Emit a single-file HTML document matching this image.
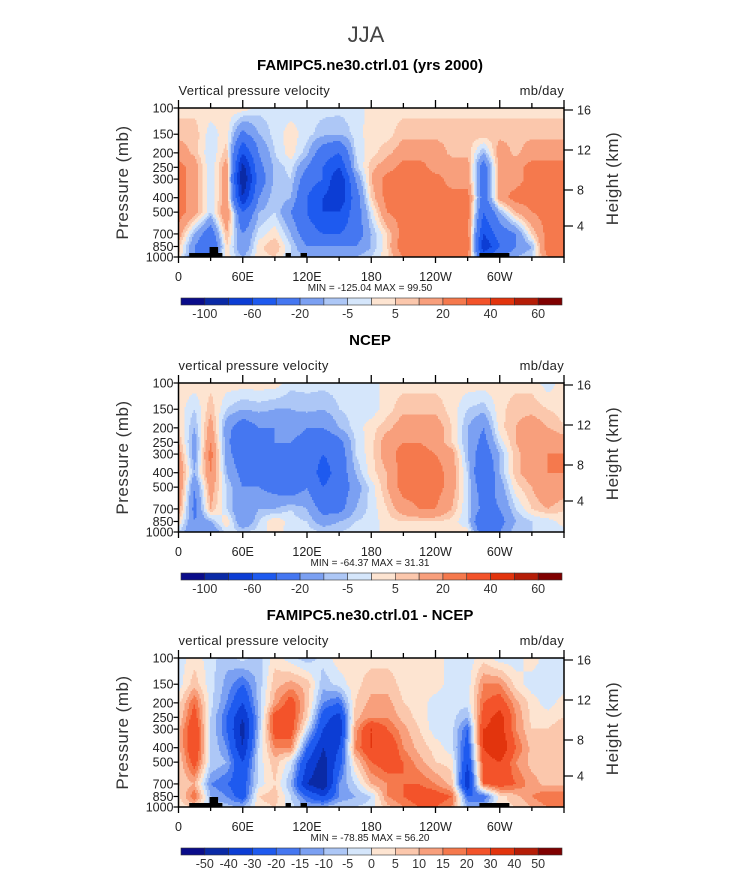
<!DOCTYPE html>
<html><head><meta charset="utf-8"><style>
html,body{margin:0;padding:0;background:#fff;}
body{width:733px;height:888px;position:relative;overflow:hidden;font-family:"Liberation Sans",sans-serif;}
svg{position:absolute;left:0;top:0;}
</style></head><body>
<svg id="chart" width="733" height="888" viewBox="0 0 733 888"></svg>
<script>
// ---- data ----
const lons = [0,15,30,45,60,75,90,105,120,135,150,165,180,195,210,225,240,255,270,285,300,315,330,345,360];
const levels = [100,150,200,250,300,400,500,700,850,1000];
const model = [
[3,3,3,3,4,-3,-3,-3,-3,-3,-3,-3,2,3,3,3,3,3,3,3,3,3,3,3,3],
[8,8,-3,3,-25,-10,-3,3,-3,-8,-10,-3,3,3,8,8,8,8,8,8,8,8,8,8,8],
[15,8,-5,8,-60,-20,-5,3,-8,-30,-40,-5,3,8,15,15,15,8,8,-10,15,8,15,15,15],
[25,15,-5,15,-90,-25,-8,-3,-20,-40,-60,-8,8,15,25,25,15,15,15,-30,15,15,25,25,25],
[25,15,-5,15,-100,-30,-8,-5,-30,-40,-80,-20,10,25,25,25,25,15,15,-30,15,15,25,25,25],
[25,15,-5,15,-80,-20,-5,-10,-40,-60,-80,-30,5,25,25,25,25,25,25,-30,15,25,25,25,25],
[25,15,-5,20,-40,-10,-5,-20,-40,-60,-60,-30,-3,20,25,25,25,25,25,-40,-10,10,20,25,25],
[15,-10,-30,10,-20,-3,3,-10,-30,-40,-40,-30,-10,5,25,25,25,25,25,-60,-30,-20,5,25,25],
[8,-20,-40,5,-20,3,10,-5,-20,-20,-20,-20,-10,5,30,30,30,30,30,-80,-40,-20,-10,30,25],
[5,-20,-20,3,-10,3,5,-5,-10,-10,-10,-10,-5,3,20,20,20,20,20,-40,-20,-10,-5,20,20]];
const ncep = [
[3,3,3,3,3,3,3,-3,-3,-3,-3,-3,-3,3,3,3,3,3,3,3,3,3,3,-3,3],
[3,-5,8,-5,-10,-8,-10,-10,-8,-10,-5,-3,-3,3,8,8,8,3,-5,-8,3,8,8,5,3],
[5,-10,15,-15,-30,-20,-20,-15,-20,-20,-10,-3,3,8,15,15,15,5,-10,-20,3,10,15,10,5],
[10,-15,20,-15,-40,-25,-20,-20,-25,-35,-25,-5,3,15,20,20,15,5,-10,-25,-3,10,15,20,15],
[15,-15,25,-15,-30,-25,-30,-20,-25,-40,-30,-5,3,15,25,25,20,15,-10,-30,-10,8,15,20,20],
[20,-10,20,-10,-25,-25,-30,-25,-25,-50,-30,-10,3,10,25,25,25,15,-5,-40,-10,8,15,20,20],
[20,-20,15,-5,-20,-20,-25,-30,-20,-40,-30,-15,-3,10,25,25,25,15,-5,-30,-15,3,10,20,15],
[15,-25,10,-5,-20,-10,-10,-5,-10,-25,-25,-10,-3,5,15,20,20,10,-5,-25,-20,-5,5,10,5],
[5,-20,-10,5,-20,-5,5,-3,-5,-15,-10,-5,-3,3,5,5,5,3,-5,-40,-25,-10,-5,-3,3],
[-5,-20,-20,-3,-5,-3,3,-3,-3,-5,-5,-3,-3,3,3,3,3,3,3,-30,-20,-5,-5,-3,-3]];
const diff = [
[-3,3,-3,-8,-3,-8,3,-3,-8,-3,3,3,3,3,3,3,3,-3,-3,3,-3,-3,3,-3,-3],
[-3,8,-3,-12,-20,-8,8,12,8,-8,-3,3,8,8,3,3,3,-3,-3,15,15,3,-3,-3,-3],
[3,20,-3,-15,-30,-8,12,25,8,-15,-20,5,12,12,5,3,-3,-3,-3,20,25,12,3,-3,3],
[5,25,-5,-20,-40,-10,25,25,5,-25,-35,8,15,15,8,3,-3,-3,-10,25,35,15,3,3,5],
[8,30,-5,-20,-45,-8,25,25,-3,-30,-40,12,30,20,12,5,-3,-3,-20,30,35,15,5,5,8],
[8,30,-5,-15,-40,-5,15,15,-20,-40,-30,15,30,30,15,8,3,-3,-25,30,40,20,8,8,8],
[5,25,-5,-10,-30,-3,8,-3,-30,-45,-25,5,20,25,20,12,5,3,-30,25,30,15,8,8,5],
[5,10,-15,-20,-25,-3,5,-10,-40,-50,-15,-5,10,15,20,20,15,8,-40,20,25,20,12,8,8],
[3,20,-10,-15,-25,5,8,-5,-20,-30,-15,-10,-5,15,20,25,25,20,-20,-20,3,8,15,20,20],
[3,5,-5,-8,-10,3,5,-3,-10,-10,-5,-5,-3,8,15,20,20,15,-10,-10,3,5,10,15,15]];
const contours1 = [-100,-80,-60,-40,-20,-10,-5,0,5,10,20,30,40,50,60];
const contours3 = [-50,-40,-30,-20,-15,-10,-5,0,5,10,15,20,30,40,50];
const cbLabels1 = ["-100","-60","-20","-5","5","20","40","60"];
const cbLabels3 = ["-50","-40","-30","-20","-15","-10","-5","0","5","10","15","20","30","40","50"];
const pTicks = [100,150,200,250,300,400,500,700,850,1000];
const hTicks = [16,12,8,4];
const hTickPx = [2,42,82,118];
const xTickLabels = ["0","60E","120E","180","120W","60W"];
const xTickLons = [0,60,120,180,240,300];
const colors = ["#0a0c8a","#0a2aa6","#0c3dd4","#1e5aef","#4577f1","#7ba0f2","#adc7f6","#d5e6fb","#fde4d1","#fbc7ac","#f89f7c","#f5794d","#f3532a","#e2340d","#b51d07","#7f0000"];
// topography (lon range, height px)
const topo = [[10,41,4],[29,37,10],[100,105,4],[114,120,4],[281,309,4]];

const NS="http://www.w3.org/2000/svg";
const svg=document.getElementById('chart');
function mk(tag,attrs,parent){const e=document.createElementNS(NS,tag);for(const k in attrs)e.setAttribute(k,attrs[k]);(parent||svg).appendChild(e);return e;}
function txt(x,y,s,size,anchor,parent,extra){const t=mk('text',Object.assign({x:x,y:y,'font-size':size,'text-anchor':anchor||'start',fill:'#000','font-family':'"Liberation Sans",sans-serif'},extra||{}),parent);t.textContent=s;return t;}

const X0=178.5,X1=564,H=149;
function xs(lon){return X0+(X1-X0)*lon/360;}
function ys(p,top){return top+H*Math.log10(p/100);}

function interp(grid,lon,p){
  let i=Math.min(Math.floor(lon/15),23);let fx=(lon-lons[i])/15;
  const lp=Math.log10(p);let j=0;while(j<levels.length-2&&p>levels[j+1])j++;
  const l0=Math.log10(levels[j]),l1=Math.log10(levels[j+1]);let fy=(lp-l0)/(l1-l0);
  const a=grid[j][i],b=grid[j][i+1],c=grid[j+1][i],d=grid[j+1][i+1];
  return (a*(1-fx)+b*fx)*(1-fy)+(c*(1-fx)+d*fx)*fy;
}
function cls(v,cont){let k=0;while(k<cont.length&&v>=cont[k])k++;return k;}

function panel(idx,top,grid,cont,title,sub,minmax,cbLabs,showTopo){
  const g=mk('g',{},svg);
  
  
  const fg=mk('g',{},g);
  
  
  const step=1.5,ny=Math.ceil(H/step),nx=Math.ceil((X1-X0)/step);
  for(let r=0;r<ny;r++){
    const yc=top+r*step+step/2;const p=100*Math.pow(10,(yc-top)/H);
    let runStart=0,runC=-1;
    for(let c=0;c<=nx;c++){
      let k=-1;
      if(c<nx){const xc=X0+c*step+step/2;const lon=Math.min(359.99,(xc-X0)/(X1-X0)*360);k=cls(interp(grid,lon,p),cont);}
      if(k!==runC){
        if(runC>=0){const rr=mk('rect',{x:X0+runStart*step,y:top+r*step,width:Math.min((c-runStart)*step,X1-X0-runStart*step)+0.4,height:Math.min(step+0.4,top+H-(top+r*step)),fill:colors[runC]},fg);
          
          }
        runStart=c;runC=k;
      }
    }
  }
  if(showTopo){topo.forEach(t=>{const r=mk('rect',{x:xs(t[0]),y:top+H-t[2],width:xs(t[1])-xs(t[0]),height:t[2],fill:'#000'},g);
    
    });}
  const fr=mk('rect',{x:X0,y:top,width:X1-X0,height:H,fill:'none',stroke:'#000','stroke-width':1.5},g);
  
  
  for(let lon=0;lon<=360;lon+=30){const x=xs(lon);const L=lon%60===0?8:5;
    mk('line',{x1:x,x2:x,y1:top,y2:top-L,stroke:'#000','stroke-width':1.3},g);
    mk('line',{x1:x,x2:x,y1:top+H,y2:top+H+(lon%60===0?6:4),stroke:'#000','stroke-width':1.3},g);}
  xTickLabels.forEach((s,i)=>{const t=txt(xs(xTickLons[i]),top+H+24,s,12.5,'middle',g,{fill:'#222'});
    
    });
  pTicks.forEach(p=>{const y=ys(p,top);mk('line',{x1:X0,x2:X0-5,y1:y,y2:y,stroke:'#000','stroke-width':1.2},g);
    const t=txt(X0-5,y+4.5,String(p),12.5,'end',g,{fill:'#222'});
    
    });
  hTicks.forEach((h,i)=>{const y=top+hTickPx[i];mk('line',{x1:X1,x2:X1+9,y1:y,y2:y,stroke:'#000','stroke-width':1.2},g);
    const t=txt(X1+13,y+4.5,String(h),12.5,'start',g,{fill:'#222'});
    
    });
  let t=txt(370,top-38,title,15,'middle',g,{'font-weight':'bold'});
  
  
  t=txt(X0,top-13,sub,13,'start',g,{fill:'#222','letter-spacing':'0.3'});
  
  
  t=txt(X1,top-13,'mb/day',13,'end',g,{fill:'#222','letter-spacing':'0.3'});
  
  
  t=txt(128,top+H/2,'Pressure (mb)',17,'middle',g,{fill:'#333',transform:'rotate(-90 128 '+(top+H/2)+')','letter-spacing':'0.5'});
  
  
  t=txt(618,top+H/2-4,'Height (km)',17,'middle',g,{fill:'#333',transform:'rotate(-90 618 '+(top+H/2-4)+')','letter-spacing':'0.5'});
  
  
  t=txt(370,top+H+34,minmax,10,'middle',g,{fill:'#222','xml:space':'preserve'});
  
  
  const cb=mk('g',{},g);
  
  
  const cx0=181,cx1=562,cy=top+190,bw=(cx1-cx0)/16;
  colors.forEach((c,i)=>{const r=mk('rect',{x:cx0+i*bw,y:cy,width:bw,height:7,fill:c,stroke:'#333','stroke-width':0.6},cb);
    
    });
  const stepL=cbLabs.length===8?2:1;
  cbLabs.forEach((s,i)=>{const x=cx0+bw*(1+i*stepL);const t=txt(x,cy+20,s,12.5,'middle',cb,{fill:'#333'});
    
    });
}
let jt=txt(366,42,'JJA',22,'middle',svg,{fill:'#444'});


panel(1,108,model,contours1,'FAMIPC5.ne30.ctrl.01 (yrs 2000)','Vertical pressure velocity','MIN = -125.04   MAX =   99.50',cbLabels1,true);
panel(2,383,ncep,contours1,'NCEP','vertical pressure velocity','MIN = -64.37   MAX =   31.31',cbLabels1,false);
panel(3,658,diff,contours3,'FAMIPC5.ne30.ctrl.01 - NCEP','vertical pressure velocity','MIN = -78.85   MAX =   56.20',cbLabels3,true);
</script>
</body></html>
